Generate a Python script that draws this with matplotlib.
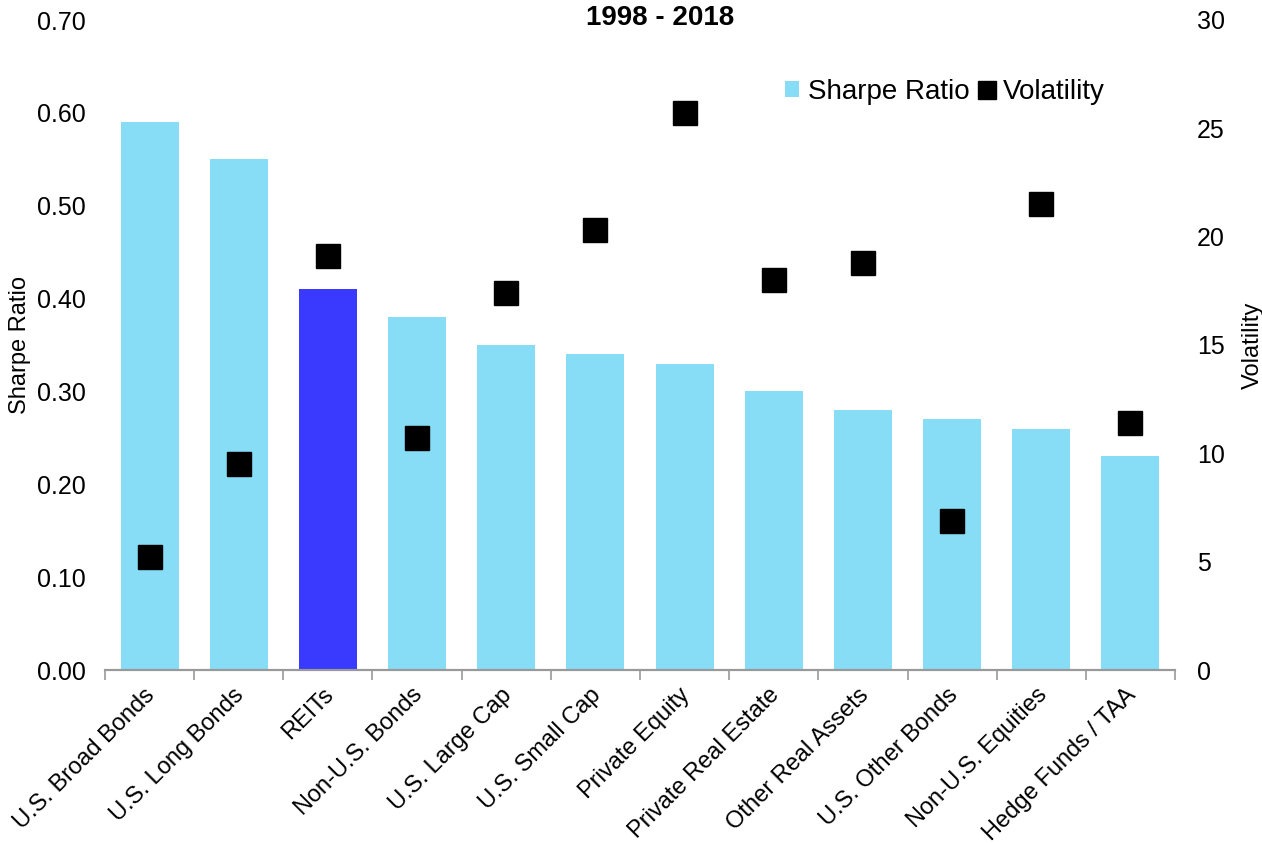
import numpy as np
import matplotlib.pyplot as plt
import matplotlib.transforms as mtransforms

plt.rcParams['font.family'] = ['Liberation Sans', 'DejaVu Sans']

# Data
categories = ['U.S. Broad Bonds', 'U.S. Long Bonds', 'REITs', 'Non-U.S. Bonds',
              'U.S. Large Cap', 'U.S. Small Cap', 'Private Equity', 'Private Real Estate',
              'Other Real Assets', 'U.S. Other Bonds', 'Non-U.S. Equities', 'Hedge Funds / TAA']
sharpe = [0.59, 0.55, 0.41, 0.38, 0.35, 0.34, 0.33, 0.30, 0.28, 0.27, 0.26, 0.23]
volatility = [5.2, 9.5, 19.1, 10.7, 17.4, 20.3, 25.7, 18.0, 18.8, 6.9, 21.5, 11.4]
sharpe_ticks = [0.0, 0.1, 0.2, 0.3, 0.4, 0.5, 0.6, 0.7]
vol_ticks = [0, 5, 10, 15, 20, 25, 30]

light_blue = '#86DDF5'
dark_blue = '#3A3AFF'
colors = [dark_blue if c == 'REITs' else light_blue for c in categories]

fig = plt.figure(figsize=(12.62, 8.43), dpi=100)
ax = fig.add_axes([105/1262, 1 - 670/843, 1070/1262, 650/843])
ax2 = ax.twinx()

x = np.arange(len(categories))
ax.bar(x, sharpe, width=0.65, color=colors, zorder=2, label='Sharpe Ratio')
ax2.plot(x, volatility, 's', color='black', markersize=17, linestyle='none', label='Volatility')

ax.set_xlim(-0.5, len(categories) - 0.5)
ax.set_ylim(0, 0.70)
ax.set_yticks(sharpe_ticks)
ax.set_yticklabels(['%.2f' % v for v in sharpe_ticks], fontsize=18)
ax.tick_params(axis='y', length=0, pad=14)
ax2.set_ylim(0, 30)
ax2.set_yticks(vol_ticks)
ax2.tick_params(axis='y', labelsize=18, length=0, pad=16)

# ticks between categories, labels at centers
ax.set_xticks(np.arange(-0.5, len(categories)), minor=False)
ax.set_xticklabels([])
ax.set_xticks(x, minor=True)
ax.set_xticklabels(categories, minor=True, rotation=45, ha='right',
                   rotation_mode='anchor', fontsize=17)
ax.tick_params(axis='x', which='major', length=7, color='#999999', width=1.2)
ax.tick_params(axis='x', which='minor', length=0, pad=10)
shift = mtransforms.ScaledTranslation(-4/72, 0, fig.dpi_scale_trans)
for lbl in ax.get_xticklabels(minor=True):
    lbl.set_transform(lbl.get_transform() + shift)

for a in (ax, ax2):
    for s in ('top', 'left', 'right'):
        a.spines[s].set_visible(False)
    a.spines['bottom'].set_color('#999999')
    a.spines['bottom'].set_linewidth(1.5)

ax.set_ylabel('Sharpe Ratio', fontsize=17, labelpad=4)
ax2.set_ylabel('Volatility', fontsize=17, labelpad=12)

fig.text(660/1262, 1 - 18/843, '1998 - 2018', ha='center', va='center',
         fontsize=20, fontweight='bold')

h1, l1 = ax.get_legend_handles_labels()
h2, l2 = ax2.get_legend_handles_labels()
ax2.legend(h1 + h2, l1 + l2, loc='center', bbox_to_anchor=(945/1262, 1 - 92/843),
           bbox_transform=fig.transFigure, ncol=2, frameon=False, fontsize=20,
           handlelength=0.5, handleheight=0.5, handletextpad=0.3,
           columnspacing=0.4, markerscale=0.75, borderpad=0)

fig.savefig('out.png', dpi=100)
